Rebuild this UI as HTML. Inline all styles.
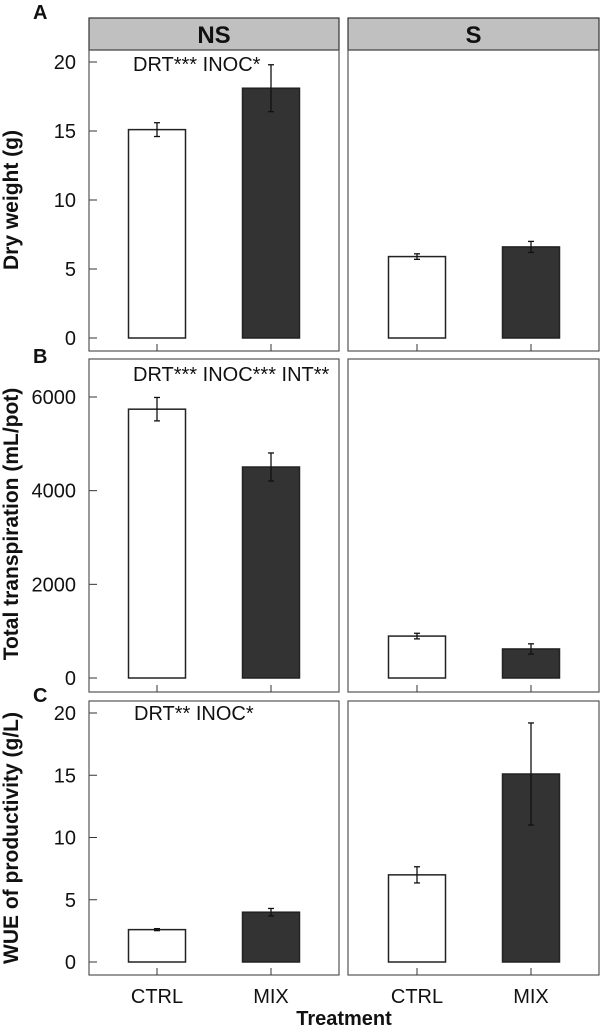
<!DOCTYPE html>
<html><head><meta charset="utf-8">
<style>
html,body{margin:0;padding:0;background:#fff;}
svg{display:block;font-family:"Liberation Sans",Arial,sans-serif;}
</style></head>
<body>
<svg id="chart" width="600" height="1027" viewBox="0 0 600 1027"></svg>
<script>
const groups = ["CTRL","MIX"];
const facets = ["NS","S"];
// Panel A dry weight (g): [NS, S] each [CTRL, MIX]
const dryMean = [[15.1, 18.1],[5.9, 6.6]];
const dryErr  = [[0.5, 1.7],[0.2, 0.4]];
const dryTicks = [0,5,10,15,20];
// Panel B total transpiration (mL/pot)
const trMean = [[5740, 4505],[895, 620]];
const trErr  = [[250, 300],[60, 110]];
const trTicks = [0,2000,4000,6000];
// Panel C WUE (g/L)
const wueMean = [[2.6, 4.0],[7.0, 15.1]];
const wueErr  = [[0.08, 0.3],[0.65, 4.1]];
const wueTicks = [0,5,10,15,20];

const NS="http://www.w3.org/2000/svg";
const svg=document.getElementById('chart');
function mk(tag,attrs,parent){const e=document.createElementNS(NS,tag);for(const k in attrs)e.setAttribute(k,attrs[k]);(parent||svg).appendChild(e);return e;}

const facetX=[[89,339],[348,599]];
const barCenters=[[157,271],[417,531]];
const barW=57;

const panels=[
 {letter:"A",title:"Dry weight (g)",mean:dryMean,err:dryErr,ticks:dryTicks,top:50,bottom:351,y0:338,yMaxVal:20,yMaxPx:62,note:"DRT*** INOC*",noteX:133,noteY:71,titleY:200},
 {letter:"B",title:"Total transpiration (mL/pot)",mean:trMean,err:trErr,ticks:trTicks,top:359,bottom:692,y0:678,yMaxVal:6000,yMaxPx:397,note:"DRT*** INOC*** INT**",noteX:133,noteY:381,titleY:524},
 {letter:"C",title:"WUE of productivity (g/L)",mean:wueMean,err:wueErr,ticks:wueTicks,top:701,bottom:975,y0:962,yMaxVal:20,yMaxPx:713,note:"DRT** INOC*",noteX:134,noteY:720,titleY:838}
];
const letterY=[19,363,702];

// strips
facets.forEach((f,fi)=>{
  const g=mk('g',{});
  
  
  mk('rect',{x:facetX[fi][0],y:18,width:facetX[fi][1]-facetX[fi][0],height:32,fill:'#c0c0c0',stroke:'#333','stroke-width':1.2},g);
  const t=mk('text',{x:(facetX[fi][0]+facetX[fi][1])/2,y:43,'text-anchor':'middle','font-size':24,'font-weight':'bold',fill:'#111'},g);
  t.textContent=f;
});

panels.forEach((p,pi)=>{
  const scale=v=>p.y0-(v/p.yMaxVal)*(p.y0-p.yMaxPx);
  const pg=mk('g',{});
  
  
  const L=mk('text',{x:33,y:letterY[pi],'font-size':20,'font-weight':'bold',fill:'#111'},pg);
  
  
  L.textContent=p.letter;
  const yt=mk('text',{x:0,y:0,transform:`translate(18,${p.titleY}) rotate(-90)`,'text-anchor':'middle','font-size':21,'font-weight':'bold',fill:'#111'},pg);
  
  
  yt.textContent=p.title;
  // ticks
  p.ticks.forEach(tv=>{
    const y=scale(tv);
    const tl=mk('text',{x:76,y:y+7,'text-anchor':'end','font-size':20,fill:'#111'},pg);
    
    
    tl.textContent=tv;
    mk('line',{x1:89,x2:97,y1:y,y2:y,stroke:'#333','stroke-width':1},pg);
  });
  facets.forEach((f,fi)=>{
    const fr=mk('rect',{x:facetX[fi][0],y:p.top,width:facetX[fi][1]-facetX[fi][0],height:p.bottom-p.top,fill:'none',stroke:'#555','stroke-width':1.2},pg);
    
    
    groups.forEach((gname,gi)=>{
      const cx=barCenters[fi][gi];
      const v=p.mean[fi][gi], e=p.err[fi][gi];
      const yTop=scale(v);
      const b=mk('rect',{x:cx-barW/2,y:yTop,width:barW,height:p.y0-yTop,fill:gi?'#333':'#fff',stroke:'#222','stroke-width':1.5},pg);
      
      
      const y1=scale(v+e), y2=scale(v-e);
      const eb=mk('g',{stroke:'#111','stroke-width':1.3},pg);
      
      
      mk('line',{x1:cx,x2:cx,y1:y1,y2:y2},eb);
      mk('line',{x1:cx-3,x2:cx+3,y1:y1,y2:y1},eb);
      mk('line',{x1:cx-3,x2:cx+3,y1:y2,y2:y2},eb);
      mk('line',{x1:cx,x2:cx,y1:p.bottom-7,y2:p.bottom,stroke:'#333','stroke-width':1},pg);
    });
  });
  const n=mk('text',{x:p.noteX,y:p.noteY,'font-size':20,fill:'#111'},pg);
  
  
  n.textContent=p.note;
});

facets.forEach((f,fi)=>{
  groups.forEach((gname,gi)=>{
    const t=mk('text',{x:barCenters[fi][gi],y:1003,'text-anchor':'middle','font-size':20,fill:'#111'});
    
    
    t.textContent=gname;
  });
});
const xt=mk('text',{x:344,y:1025,'text-anchor':'middle','font-size':20,'font-weight':'bold',fill:'#111'});


xt.textContent="Treatment";
</script>
</body></html>
